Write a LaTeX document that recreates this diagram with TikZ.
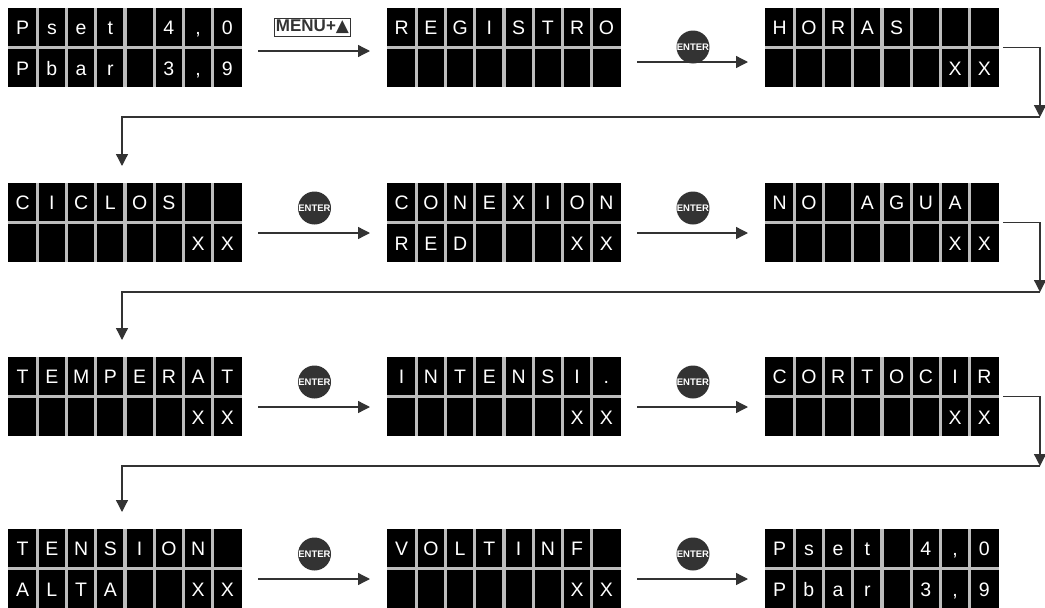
\documentclass[tikz,border=0pt]{standalone}
\usepackage{fontspec}
\setmainfont{Liberation Sans}
\newfontfamily\dejavu{DejaVu Sans}
\usetikzlibrary{arrows.meta,calc}
\definecolor{conncol}{HTML}{333333}
\definecolor{sepgray}{HTML}{BDBDBD}
\newcommand\lcdcomma{,}
\tikzset{
 lcdbox/.style={rectangle, fill=black, draw=none, minimum width=234pt, minimum height=79pt, inner sep=0pt, outer sep=0pt, anchor=north west},
 lcdch/.style={text=white, font=\fontsize{19.5}{19.5}\selectfont, anchor=base, inner sep=0pt},
 sepline/.style={draw=sepgray, line width=3.2pt},
 conn/.style={draw=conncol, line width=1.3pt, -{Triangle[length=12pt,width=12pt]}},
 enterbtn/.style={circle, fill=conncol, minimum size=33pt, inner sep=0pt, text=white, font=\bfseries\fontsize{9.5}{9.5}\selectfont},
 menulabel/.style={draw=conncol, line width=1pt, inner sep=1.5pt, minimum height=18pt, font=\bfseries\fontsize{17}{17}\selectfont, text=conncol},
}
\newcommand\lcd[5]{%
 \node[lcdbox] (#1) at (#2,#3) {};
 \foreach \i in {1,...,7} {\draw[sepline] ($(#1.north west)+(\i*29.25,0)$) -- ++(0,79);}
 \draw[sepline] ($(#1.north west)+(0,39.5)$) -- ++(234,0);
 \foreach[count=\i] \c in {#4} {\node[lcdch] at ($(#1.north west)+(\i*29.25-14.625,26.5)$) {\c};}
 \foreach[count=\i] \c in {#5} {\node[lcdch] at ($(#1.north west)+(\i*29.25-14.625,67.5)$) {\c};}
}
\begin{document}
\begin{tikzpicture}[x=1pt,y=-1pt]
\useasboundingbox (0,0) rectangle (1045,608);
\lcd{d1}{8}{8}{P,s,e,t,,4,\lcdcomma,0}{P,b,a,r,,3,\lcdcomma,9}
\lcd{d2}{387}{8}{R,E,G,I,S,T,R,O}{}
\lcd{d3}{765}{8}{H,O,R,A,S}{,,,,,,X,X}
\lcd{d4}{8}{183}{C,I,C,L,O,S}{,,,,,,X,X}
\lcd{d5}{387}{183}{C,O,N,E,X,I,O,N}{R,E,D,,,,X,X}
\lcd{d6}{765}{183}{N,O,,A,G,U,A}{,,,,,,X,X}
\lcd{d7}{8}{357}{T,E,M,P,E,R,A,T}{,,,,,,X,X}
\lcd{d8}{387}{357}{I,N,T,E,N,S,I,.}{,,,,,,X,X}
\lcd{d9}{765}{357}{C,O,R,T,O,C,I,R}{,,,,,,X,X}
\lcd{d10}{8}{529}{T,E,N,S,I,O,N}{A,L,T,A,,,X,X}
\lcd{d11}{387}{529}{V,O,L,T,I,N,F}{,,,,,,X,X}
\lcd{d12}{765}{529}{P,s,e,t,,4,\lcdcomma,0}{P,b,a,r,,3,\lcdcomma,9}

% row 1
\node[menulabel] (menu) at (312.5,27) {MENU+{\dejavu ▲}};
\draw[conn] ($(d1.north east)+(16,43)$) -- ($(d2.north west)+(-17,43)$);
\node[enterbtn] (e2) at ($(d2.north east)!0.5!(d3.north west)+(0,39)$) {ENTER};
\draw[conn] ($(d2.north east)+(16,54)$) -- ($(d3.north west)+(-17,54)$);
% rows 2-4
\foreach \a/\b in {d4/d5,d5/d6,d7/d8,d8/d9,d10/d11,d11/d12}{
 \node[enterbtn] (e\b) at ($(\a.north east)!0.5!(\b.north west)+(0,25)$) {ENTER};
 \draw[conn] ($(\a.north east)+(16,50)$) -- ($(\b.north west)+(-17,50)$);
}
% row transitions
\foreach \a/\b in {d3/d4,d6/d7,d9/d10}{
 \coordinate (ra\a) at ($(\a.east)+(41,0)$);
 \coordinate (rb\a) at ($(\a.south east)+(41,30)$);
 \coordinate (rc\a) at ($(\b.north west)+(114,-17)$);
 \draw[conn] ($(\a.east)+(4,0)$) -- (ra\a) -- (rb\a);
 \draw[conn] (rb\a) -- (rc\a |- rb\a) -- (rc\a);
}
\end{tikzpicture}
\end{document}
